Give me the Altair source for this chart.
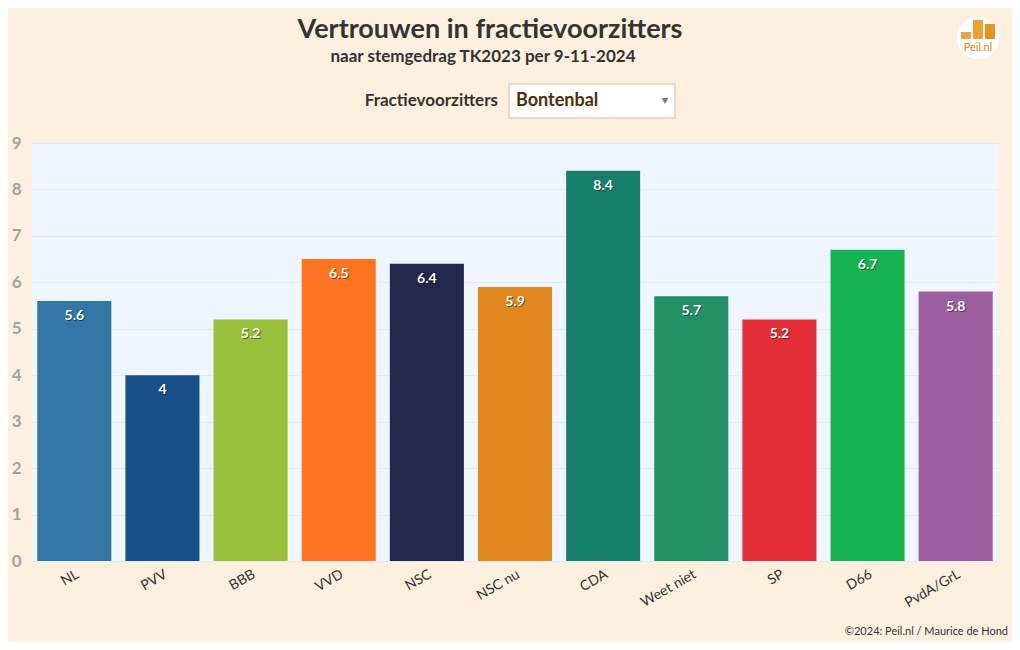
import altair as alt
import pandas as pd

parties = ["NL", "PVV", "BBB", "VVD", "NSC", "NSC nu", "CDA", "Weet niet", "SP", "D66", "PvdA/GrL"]
values = [5.6, 4, 5.2, 6.5, 6.4, 5.9, 8.4, 5.7, 5.2, 6.7, 5.8]
colors = ["#3277A6", "#174F88", "#98C03A", "#FF7420", "#25264B", "#E2861F",
          "#17806D", "#239065", "#E32E38", "#17B252", "#9D5FA0"]
y_ticks = [0, 1, 2, 3, 4, 5, 6, 7, 8, 9]

FONT = "Lato"
df = pd.DataFrame({"party": parties, "value": values})
df["label"] = [("%g" % v) for v in values]

W, H = 966, 418

x = alt.X("party:N", sort=parties, title=None,
          scale=alt.Scale(paddingInner=0.16, paddingOuter=0.06),
          axis=alt.Axis(labelAngle=-30, labelFontSize=14, labelColor="#333333",
                        labelFont=FONT, ticks=False, domain=False, labelPadding=6))
y = alt.Y("value:Q", title=None,
          scale=alt.Scale(domain=[0, 9], nice=False),
          axis=alt.Axis(values=y_ticks, labelFontSize=17, labelFontWeight="bold",
                        labelColor="#A3A3A3", labelFont=FONT, ticks=False, domain=False,
                        labelPadding=11, gridColor="#E3E9F0", gridWidth=1))

base = alt.Chart(df)
bars = base.mark_bar().encode(
    x=x, y=y,
    color=alt.Color("party:N", sort=parties,
                    scale=alt.Scale(domain=parties, range=colors), legend=None),
)
shadow = base.mark_text(baseline="top", dy=9, dx=1, fontSize=14, fontWeight="bold",
                        font=FONT, color="#000000", opacity=0.45).encode(
    x=alt.X("party:N", sort=parties), y="value:Q", text="label:N")
labels = base.mark_text(baseline="top", dy=8, fontSize=14, fontWeight="bold",
                        font=FONT, color="#FFFFFF").encode(
    x=alt.X("party:N", sort=parties), y="value:Q", text="label:N")

one = pd.DataFrame({"k": [0]})
deco = alt.Chart(one)

def txt(s, xv, yv, size, weight="bold", align="center", color="#333333", baseline="middle"):
    return deco.mark_text(text=s, fontSize=size, fontWeight=weight, align=align,
                          baseline=baseline, font=FONT, color=color).encode(
        x=alt.value(xv), y=alt.value(yv))

def box(x1, x2, y1, y2, fill, stroke=None, sw=0):
    kw = dict(fill=fill)
    if stroke:
        kw.update(stroke=stroke, strokeWidth=sw)
    return deco.mark_rect(**kw).encode(
        x=alt.value(x1), x2=alt.value(x2), y=alt.value(y1), y2=alt.value(y2))

title = txt("Vertrouwen in fractievoorzitters", 458, -113, 27)
subtitle = txt("naar stemgedrag TK2023 per 9-11-2024", 451, -86, 17)
dd_label = txt("Fractievoorzitters", 466, -42, 17, align="right")
dd_box = box(477, 643, -59, -25, "#FFFFFF", "#E8DACB", 2)
dd_text = txt("Bontenbal", 484, -42, 18, align="left", color="#4A2F05")
dd_tri = deco.mark_point(shape="triangle-down", filled=True, size=45, color="#444444").encode(
    x=alt.value(633), y=alt.value(-42))
footer = txt("©2024: Peil.nl / Maurice de Hond", 976, 489, 11, weight="normal", align="right")

logo_circle = deco.mark_point(shape="circle", filled=True, size=1800, color="#FFFFFF", opacity=1).encode(
    x=alt.value(946), y=alt.value(-105))
lb1 = box(929, 939, -111, -104, "#EBA24A")
lb2 = box(941, 951, -123, -104, "#F0A032")
lb3 = box(953, 963, -119, -104, "#E8921E")
logo_text = txt("Peil.nl", 946, -95, 11, weight="normal", color="#E08A20")

chart = alt.layer(
    bars, shadow, labels, title, subtitle, dd_label, dd_box, dd_text, dd_tri, footer,
    logo_circle, lb1, lb2, lb3, logo_text
).properties(
    width=W, height=H,
    padding={"left": 24, "top": 135, "right": 14, "bottom": 81},
    autosize=alt.AutoSizeParams(type="none"),
    background="#FDF0DE",
).configure_view(fill="#EFF6FF", stroke=None)

chart.save("out.html", embed_options={"renderer": "svg", "actions": False})
